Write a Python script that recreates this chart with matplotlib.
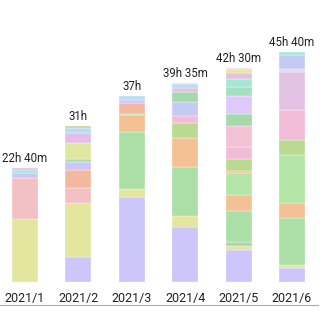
import matplotlib
matplotlib.use('Agg')
import matplotlib.pyplot as plt

plt.rcParams['font.family'] = ['Roboto', 'DejaVu Sans']

months = ['2021/1', '2021/2', '2021/3', '2021/4', '2021/5', '2021/6']
total_minutes = [1360, 1860, 2220, 2375, 2550, 2740]

palette = {
    'lavender': '#ccc6fa', 'khaki': '#e4e59f', 'pink': '#f3c1c3',
    'salmon': '#f3b9a0', 'orange': '#f4c195', 'green': '#abdfa6',
    'lightgreen': '#b3e6a6', 'olive': '#bbda91', 'rose': '#f2bcd9',
    'softpink': '#f2c1d4', 'lilac': '#e2c2e3', 'violet': '#dfc9fb',
    'teal': '#a6e6d6', 'aqua': '#a4dfbe', 'sky': '#b7def0',
    'periwinkle': '#c4caf2', 'yellow': '#eee49a', 'orchid': '#e6bde8',
    'lime': '#dfe7a0', 'mint': '#a4d9ab', 'pale': '#dcd8f4',
}

# segments, bottom to top (hours)
jan_keys = ['khaki', 'pink', 'lavender', 'teal', 'orchid']
jan_hours = [12.6, 8.1, 1.0, 0.55, 0.42]

feb_keys = ['lavender', 'khaki', 'pink', 'salmon', 'lavender', 'green',
            'lime', 'orchid', 'sky', 'olive']
feb_hours = [4.9, 10.85, 2.86, 3.74, 1.55, 0.48, 3.18, 2.0, 1.14, 0.3]

mar_keys = ['lavender', 'khaki', 'green', 'orange', 'green', 'salmon',
            'lavender', 'sky']
mar_hours = [16.9, 1.59, 11.33, 3.31, 0.33, 2.19, 0.6, 0.75]

apr_keys = ['lavender', 'khaki', 'green', 'orange', 'olive', 'rose',
            'periwinkle', 'mint', 'orchid', 'sky', 'yellow']
apr_hours = [10.85, 2.25, 9.85, 5.65, 3.0, 1.46, 2.65, 2.0, 0.92, 0.83, 0.12]

may_keys = ['lavender', 'khaki', 'mint', 'green', 'orange', 'lightgreen',
            'salmon', 'olive', 'rose', 'softpink', 'mint', 'violet', 'aqua',
            'teal', 'lilac', 'yellow', 'pale']
may_hours = [6.29, 0.8, 0.8, 6.16, 3.18, 4.44, 0.33, 2.45, 2.31, 4.31, 2.33,
             3.5, 1.79, 1.67, 1.19, 0.8, 0.15]

jun_keys = ['lavender', 'khaki', 'green', 'orange', 'lightgreen', 'olive',
            'rose', 'lilac', 'pale', 'periwinkle', 'teal']
jun_hours = [2.78, 0.53, 9.41, 3.05, 9.54, 2.98, 5.83, 7.71, 0.53, 2.78, 0.53]

stacks = [(jan_keys, jan_hours), (feb_keys, feb_hours), (mar_keys, mar_hours),
          (apr_keys, apr_hours), (may_keys, may_hours), (jun_keys, jun_hours)]

fig = plt.figure(figsize=(3.31, 3.25), dpi=100)
ax = fig.add_axes([0, 20 / 325, 318 / 331, 305 / 325])

for i, (keys, hours) in enumerate(stacks):
    bottom = 0
    for k, h in zip(keys, hours):
        ax.bar(i, h, bottom=bottom, width=0.487, color=palette[k],
               edgecolor='white', linewidth=0.25)
        bottom += h
    m = total_minutes[i]
    label = f'{m // 60}h' + (f' {m % 60}m' if m % 60 else '')
    ax.annotate(label, (i, m / 60), xytext=(0, 4.5), textcoords='offset points',
                ha='center', va='baseline', fontsize=8.3, color='#222222')
    ax.text(i, -3.92, months[i], ha='center', va='baseline', fontsize=9,
            color='#222222')

ax.set_xlim(-0.468, 5.487)
ax.set_ylim(-4.57, 56.06)
for s in ['top', 'left', 'right']:
    ax.spines[s].set_visible(False)
ax.spines['bottom'].set_color('#aaaaaa')
ax.spines['bottom'].set_linewidth(0.8)
ax.set_xticks([])
ax.set_yticks([])

fig.savefig('out.png', dpi=100)
